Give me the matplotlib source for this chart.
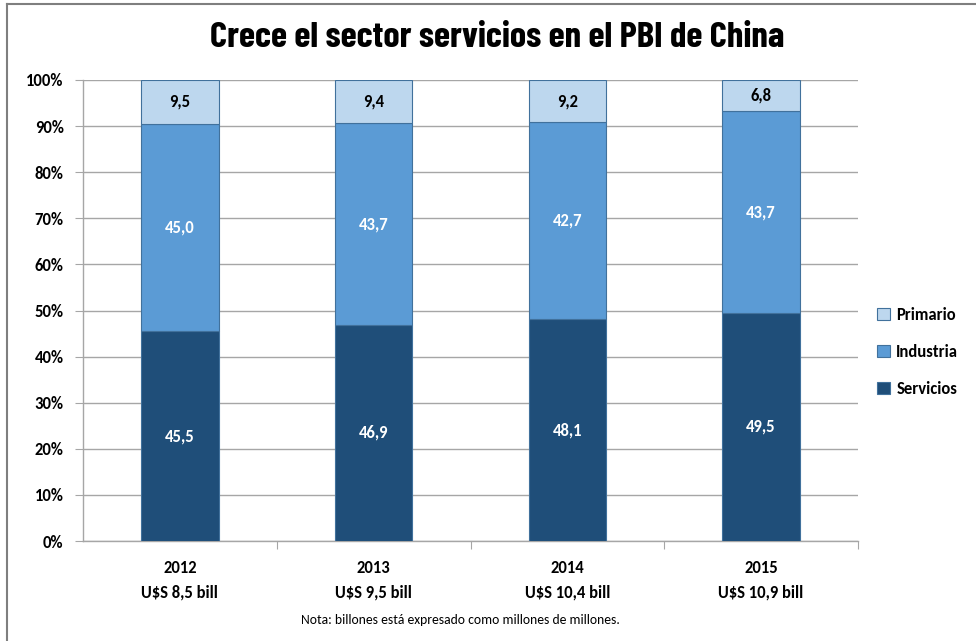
import matplotlib
matplotlib.use("Agg")
import matplotlib.pyplot as plt
from matplotlib import font_manager as fm
from matplotlib.lines import Line2D

years = ["2012", "2013", "2014", "2015"]
gdp = ["U$S 8,5 bill", "U$S 9,5 bill", "U$S 10,4 bill", "U$S 10,9 bill"]
servicios = [45.5, 46.9, 48.1, 49.5]
industria = [45.0, 43.7, 42.7, 43.7]
primario = [9.5, 9.4, 9.2, 6.8]

def fmt(v):
    return f"{v:.1f}".replace(".", ",")

names = set(f.name for f in fm.fontManager.ttflist)
fam = "Carlito" if "Carlito" in names else "Lato"
title_fam = "Barlow Condensed" if "Barlow Condensed" in names else "DejaVu Sans"

fig = plt.figure(figsize=(9.76, 6.41), dpi=100)
ax = fig.add_axes([83/976, 1-541/641, 775/976, 461/641])
x = list(range(len(years)))
w = 0.4
c_s, c_i, c_p = "#1F4E79", "#5B9BD5", "#BDD7EE"
edge = "#41719C"
ax.bar(x, servicios, w, color=c_s, edgecolor=edge, linewidth=0.8, label="Servicios", zorder=3)
ax.bar(x, industria, w, bottom=servicios, color=c_i, edgecolor=edge, linewidth=0.8, label="Industria", zorder=3)
bot2 = [a + b for a, b in zip(servicios, industria)]
ax.bar(x, primario, w, bottom=bot2, color=c_p, edgecolor=edge, linewidth=0.8, label="Primario", zorder=3)

fs = 12
wt = "heavy"
for i in x:
    ax.text(i, servicios[i]/2, fmt(servicios[i]), ha="center", va="center", color="white", fontsize=fs, fontweight=wt, family=fam, zorder=4)
    ax.text(i, servicios[i] + industria[i]/2, fmt(industria[i]), ha="center", va="center", color="white", fontsize=fs, fontweight=wt, family=fam, zorder=4)
    ax.text(i, bot2[i] + primario[i]/2, fmt(primario[i]), ha="center", va="center", color="black", fontsize=fs, fontweight=wt, family=fam, zorder=4)

ax.set_xlim(-0.5, 3.5)
ax.set_ylim(0, 100)
ax.set_yticks(range(0, 101, 10))
ax.set_yticklabels([f"{v}%" for v in range(0, 101, 10)], fontsize=fs, fontweight=wt, family=fam)
ax.set_xticks([0.5, 1.5, 2.5, 3.5])
ax.set_xticklabels([])
ax.set_xticks(x, minor=True)
ax.set_xticklabels([f"{y}\n{g}" for y, g in zip(years, gdp)], minor=True, fontsize=fs, fontweight=wt, family=fam, linespacing=1.65)
ax.tick_params(axis="x", which="minor", length=0, pad=14)
ax.tick_params(axis="x", which="major", length=6, color="#A6A6A6", direction="out")
ax.tick_params(axis="y", length=6, color="#A6A6A6", pad=8)
ax.grid(axis="y", color="#A6A6A6", linewidth=1, zorder=0)
for s in ["top", "right"]:
    ax.spines[s].set_visible(False)
for s in ["left", "bottom"]:
    ax.spines[s].set_color("#A6A6A6")
    ax.spines[s].set_linewidth(1)

h, l = ax.get_legend_handles_labels()
leg = fig.legend(h[::-1], l[::-1], loc="center left", bbox_to_anchor=(862/976, 1-352/641), frameon=False,
                 prop={"family": fam, "weight": wt, "size": fs}, handlelength=0.75, handleheight=0.75,
                 labelspacing=1.25, handletextpad=0.4)

fig.text(497/976, 1-38/641, "Crece el sector servicios en el PBI de China", ha="center", va="center",
         fontsize=26.5, fontweight="bold", family=title_fam)
fig.text(460/976, 1-620/641, "Nota: billones está expresado como millones de millones.", ha="center", va="center",
         fontsize=9.8, family=fam)

fig.add_artist(Line2D([7/976, 7/976], [0, 1-4/641], transform=fig.transFigure, color="#7F7F7F", linewidth=1.5))
fig.add_artist(Line2D([7/976, 1], [1-4/641, 1-4/641], transform=fig.transFigure, color="#7F7F7F", linewidth=1.5))

fig.savefig("out.png", dpi=100)
